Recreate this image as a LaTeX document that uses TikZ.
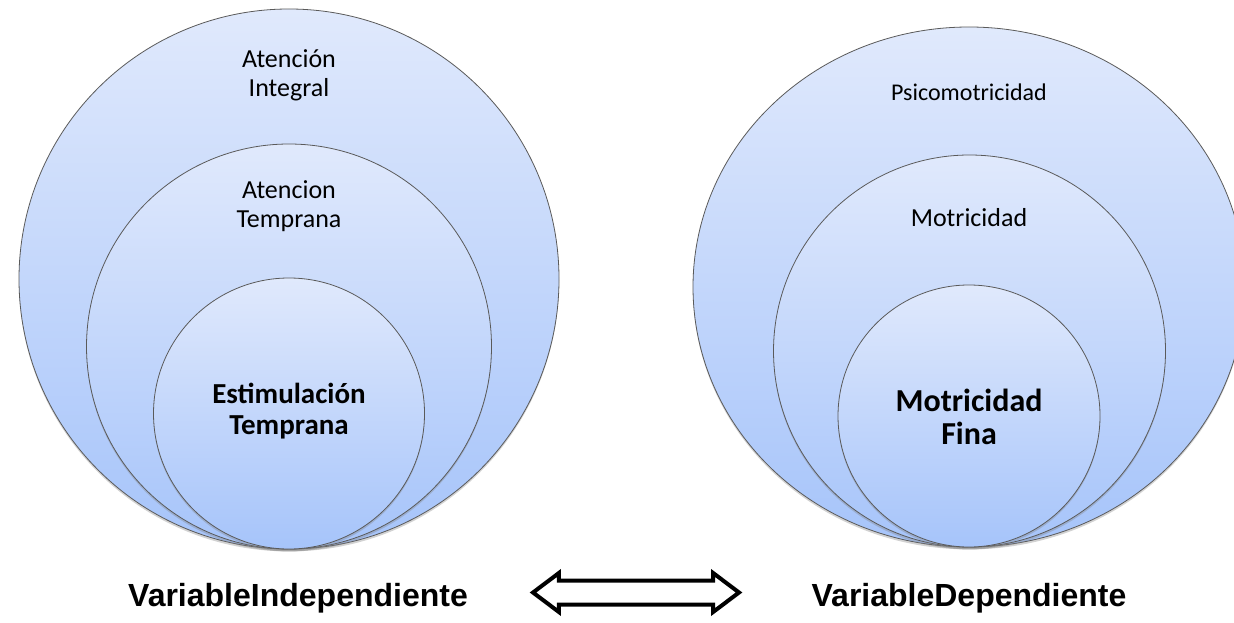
\documentclass[tikz,border=0pt]{standalone}
\usepackage{fontspec}
\setmainfont{Carlito}
\newfontfamily\labelfont{Liberation Sans}
\usetikzlibrary{shapes.geometric,shapes.arrows,shadows}
\begin{document}
\begin{tikzpicture}[x=0.5pt,y=0.5pt]
\definecolor{topColor}{RGB}{224,233,252}
\definecolor{bottomColor}{RGB}{166,196,250}
\definecolor{drawColor}{RGB}{90,90,90}
\tikzset{
  bubble/.style={circle,inner sep=0pt,draw=drawColor,line width=0.4pt,
    top color=topColor,bottom color=bottomColor,
    drop shadow={shadow xshift=0pt,shadow yshift=-1.2pt,opacity=0.35}},
  ringtext/.style={align=center,font=\fontsize{13}{14.5}\selectfont},
  coretext/.style={align=center,font=\bfseries\fontsize{14.5}{15.5}\selectfont},
  varlabel/.style={font=\labelfont\bfseries\fontsize{16}{19}\selectfont}
}
\path[use as bounding box,fill=white] (0,0) rectangle (1234,622);

% independent variable
\node[bubble,minimum size=270pt] (integral) at (289,343) {};
\node[bubble,minimum size=202.5pt] (atencion) at (289,275.5) {};
\node[bubble,minimum size=135.5pt] (estimulacion) at (289,208.5) {};

\node[ringtext] (integralText) at (289,546.5) {Atención\\Integral};
\node[ringtext] (atencionText) at (289,415.5) {Atencion\\Temprana};
\node[coretext] (estimulacionText) at (289,210.5) {Estimulación\\Temprana};

% dependent variable
\node[bubble,ellipse,minimum width=276pt,minimum height=260pt] (psico) at (969,335) {};
\node[bubble,minimum size=196pt] (motricidad) at (969.5,271) {};
\node[bubble,minimum size=131pt] (fina) at (969,206) {};

\node[ringtext,font=\fontsize{12}{14}\selectfont] (psicoText) at (969,529.5) {Psicomotricidad};
\node[ringtext] (motricidadText) at (969,404) {Motricidad};
\node[coretext,font=\bfseries\fontsize{16}{16.5}\selectfont] (finaText) at (969,205.5) {Motricidad\\Fina};

\node[varlabel] (indep) at (298,24) {VariableIndependiente};
\node[varlabel] (dep) at (969,24) {VariableDependiente};

\node[double arrow,draw=black,line width=2pt,fill=white,inner sep=0pt,inner ysep=5pt,
  minimum height=103pt,double arrow head extend=3.75pt,double arrow tip angle=74] (link) at (636,29.5) {};
\end{tikzpicture}
\end{document}
